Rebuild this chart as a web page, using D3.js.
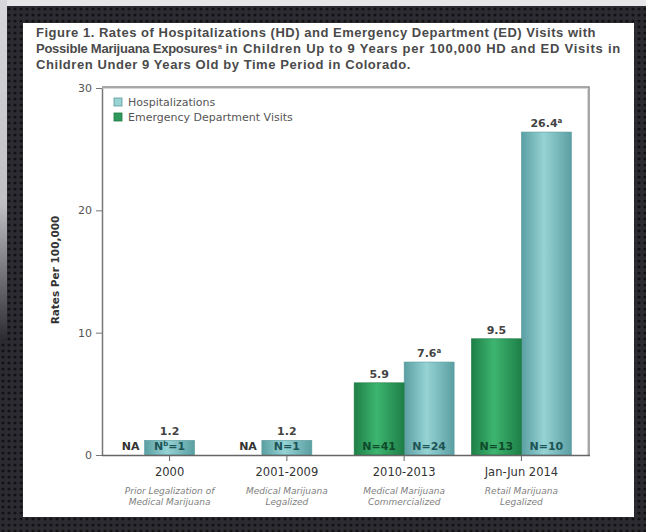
<!DOCTYPE html>
<html><head><meta charset="utf-8">
<script src="https://cdn.jsdelivr.net/npm/d3@7"></script>
<style>html,body{margin:0;padding:0;background:#222;}svg{display:block;}</style>
</head><body>
<script>
const categories = ["2000", "2001-2009", "2010-2013", "Jan-Jun 2014"];
const periodNotes = [
  ["Prior Legalization of", "Medical Marijuana"],
  ["Medical Marijuana", "Legalized"],
  ["Medical Marijuana", "Commercialized"],
  ["Retail Marijuana", "Legalized"]
];
const seriesNames = ["Hospitalizations", "Emergency Department Visits"];
const hospRates = [1.2, 1.2, 7.6, 26.4];
const hospRateSup = ["", "", "a", "a"];
const hospN = [1, 1, 24, 10];
const hospNSup = ["b", "", "", ""];
const edRates = [null, null, 5.9, 9.5];
const edN = [null, null, 41, 13];
const yTicks = [0, 10, 20, 30];
const titleLine1 = "Figure 1. Rates of Hospitalizations (HD) and Emergency Department (ED) Visits with";
const titleLine2a = "Possible Marijuana Exposures";
const titleLine2sup = "a";
const titleLine2b = "in Children Up to 9 Years per 100,000 HD and ED Visits in";
const titleLine3 = "Children Under 9 Years Old by Time Period in Colorado.";
const yTitle = "Rates Per 100,000";

const W = 646, H = 532;
const svg = d3.select("body").append("svg").attr("width", W).attr("height", H);
const defs = svg.append("defs");

// background pattern
const pat = defs.append("pattern").attr("id", "dots").attr("width", 6).attr("height", 6).attr("patternUnits", "userSpaceOnUse");
pat.append("rect").attr("width", 6).attr("height", 6).attr("fill", "#2b2b31");
pat.append("circle").attr("cx", 3).attr("cy", 3).attr("r", 1.6).attr("fill", "#121215");

function hGrad(id, edge, mid) {
  const g = defs.append("linearGradient").attr("id", id).attr("x1", "0%").attr("x2", "100%").attr("y1", "0%").attr("y2", "0%");
  g.append("stop").attr("offset", "0%").attr("stop-color", edge);
  g.append("stop").attr("offset", "45%").attr("stop-color", mid);
  g.append("stop").attr("offset", "100%").attr("stop-color", edge);
}
hGrad("gHosp", "#5b9fa2", "#95d3d5");
hGrad("gEd", "#1e7f47", "#3db56f");
const lg = defs.append("linearGradient").attr("id", "gLeft").attr("x1", 0).attr("x2", 0).attr("y1", 0).attr("y2", 1);
lg.append("stop").attr("offset", "0%").attr("stop-color", "#d8d8dc");
lg.append("stop").attr("offset", "60%").attr("stop-color", "#bfbfc4");
lg.append("stop").attr("offset", "100%").attr("stop-color", "#2b2b31");

svg.append("rect").attr("width", W).attr("height", H).attr("fill", "url(#dots)");
svg.append("rect").attr("x", 0).attr("y", 0).attr("width", W).attr("height", 6).attr("fill", "#e6e6e9");
svg.append("rect").attr("x", 0).attr("y", 0).attr("width", 7).attr("height", 340).attr("fill", "url(#gLeft)");

// white panel
svg.append("rect").attr("x", 23).attr("y", 23).attr("width", 611).attr("height", 494).attr("fill", "#ffffff");

const font = "'DejaVu Sans', Verdana, sans-serif";
const titleFont = "'Liberation Sans', Arial, sans-serif";

// title: letter-spacing tuned so each line's width matches the reference
const title = svg.append("g").attr("font-family", titleFont).attr("font-weight", "bold").attr("font-size", 13).attr("fill", "#4a4a4a");
function fitLine(txt, x0, x1, yy) {
  const t = title.append("text").attr("x", x0).attr("y", yy).text(txt);
  const w = t.node().getComputedTextLength();
  const ls = (x1 - x0 - w) / txt.length;
  t.style("letter-spacing", ls.toFixed(3) + "px");
  return t;
}
fitLine(titleLine1, 36, 596, 37);
const t2a = fitLine(titleLine2a, 36, 217, 53);
const supX = 36 + t2a.node().getComputedTextLength() + 1;
title.append("text").attr("x", supX).attr("y", 48.5).attr("font-size", 7).text(titleLine2sup);
fitLine(titleLine2b, supX + 7.5, 621, 53);
fitLine(titleLine3, 36, 411, 69);

// scales
const plotL = 102, plotR = 589;
const y = d3.scaleLinear().domain([0, 30]).range([455, 88]);
const x = d3.scaleBand().domain(categories).range([plotL, plotR]).paddingInner(0.1475).paddingOuter(0.15);
const xs = d3.scaleBand().domain(["ed", "hosp"]).range([0, x.bandwidth()]);

const g = svg.append("g").attr("font-family", font);

// frame top & right
g.append("path").attr("d", `M${plotL},${y(30) - 1}H${plotR}V${y(0)}`).attr("fill", "none").attr("stroke", "#8a8a8a").attr("stroke-width", 1.5);
g.append("path").attr("d", `M${plotL},${y(30) + 0.5}H${plotR - 1.5}V${y(0)}`).attr("fill", "none").attr("stroke", "#d6d6d6").attr("stroke-width", 1);

// bars data
const rows = categories.map((c, i) => ({ c, i, h: hospRates[i], e: edRates[i] }));

rows.forEach(r => {
  const x0 = x(r.c);
  const bw = xs.bandwidth();
  const hx = r.e == null ? x0 + x.bandwidth() / 2 - bw / 2 : x0 + xs("hosp");
  // hospitalization bar
  g.append("rect").attr("x", hx).attr("y", y(r.h)).attr("width", bw).attr("height", y(0) - y(r.h))
    .attr("fill", "url(#gHosp)").attr("stroke", "#5a9c9e").attr("stroke-width", 0.6);
  const hl = g.append("text").attr("x", hx + bw / 2).attr("y", y(r.h) - 5).attr("text-anchor", "middle")
    .attr("font-size", 11).attr("font-weight", "bold").attr("fill", "#444");
  hl.append("tspan").text(r.h.toFixed(1));
  if (hospRateSup[r.i]) hl.append("tspan").attr("dy", -4).attr("font-size", 7).text(hospRateSup[r.i]);
  const hn = g.append("text").attr("x", hx + bw / 2).attr("y", y(0) - 5).attr("text-anchor", "middle")
    .attr("font-size", 11).attr("font-weight", "bold").attr("fill", "#1d5455");
  if (hospNSup[r.i]) {
    hn.append("tspan").text("N");
    hn.append("tspan").attr("dy", -4).attr("font-size", 7).text(hospNSup[r.i]);
    hn.append("tspan").attr("dy", 4).text("=" + hospN[r.i]);
  } else hn.text("N=" + hospN[r.i]);

  if (r.e == null) {
    g.append("text").attr("x", hx - 5).attr("y", y(0) - 5).attr("text-anchor", "end")
      .attr("font-size", 11).attr("font-weight", "bold").attr("fill", "#333").text("NA");
  } else {
    const ex = x0 + xs("ed");
    g.append("rect").attr("x", ex).attr("y", y(r.e)).attr("width", bw).attr("height", y(0) - y(r.e))
      .attr("fill", "url(#gEd)").attr("stroke", "#1d7a44").attr("stroke-width", 0.6);
    g.append("text").attr("x", ex + bw / 2).attr("y", y(r.e) - 5).attr("text-anchor", "middle")
      .attr("font-size", 11).attr("font-weight", "bold").attr("fill", "#444").text(r.e.toFixed(1));
    g.append("text").attr("x", ex + bw / 2).attr("y", y(0) - 5).attr("text-anchor", "middle")
      .attr("font-size", 11).attr("font-weight", "bold").attr("fill", "#0f4a2a").text("N=" + edN[r.i]);
  }
});

// y axis
const yAxis = d3.axisLeft(y).tickValues(yTicks).tickSize(6).tickPadding(4).tickSizeOuter(0);
const ya = g.append("g").attr("transform", `translate(${plotL},0)`).call(yAxis);
ya.select(".domain").attr("stroke", "#777").attr("stroke-width", 1.5);
ya.selectAll(".tick line").attr("stroke", "#777");
ya.selectAll(".tick text").attr("font-family", font).attr("font-size", 11).attr("fill", "#555");

// x axis
const xAxis = d3.axisBottom(x).tickSize(6).tickPadding(7).tickSizeOuter(0);
const xa = g.append("g").attr("transform", `translate(0,${y(0)})`).call(xAxis);
xa.select(".domain").attr("d", `M${plotL},0.5H${plotR + 1}`).attr("stroke", "#666").attr("stroke-width", 1.5);
xa.selectAll(".tick line").attr("stroke", "#666");
xa.selectAll(".tick text").attr("font-family", font).attr("font-size", 11.5).attr("fill", "#333");

// period notes
periodNotes.forEach((lines, i) => {
  lines.forEach((ln, j) => {
    g.append("text").attr("x", x(categories[i]) + x.bandwidth() / 2).attr("y", 494 + j * 11)
      .attr("text-anchor", "middle").attr("font-size", 9).attr("font-style", "italic").attr("fill", "#808080").text(ln);
  });
});

// y title
g.append("text").attr("transform", `translate(59,270) rotate(-90)`).attr("text-anchor", "middle")
  .attr("font-size", 10.5).attr("font-weight", "bold").attr("fill", "#333").text(yTitle);

// legend
const legStroke = ["#5a9c9e", "#1d7a44"];
seriesNames.forEach((s, i) => {
  const ly = 102 + i * 15;
  g.append("rect").attr("x", 114).attr("y", ly - 4).attr("width", 8).attr("height", 8)
    .attr("fill", i === 0 ? "#9ad3d4" : "#2f9a5c").attr("stroke", legStroke[i]).attr("stroke-width", 0.8);
  g.append("text").attr("x", 128).attr("y", ly + 4).attr("font-size", 11).attr("fill", "#555").text(s);
});
</script>
</body></html>
